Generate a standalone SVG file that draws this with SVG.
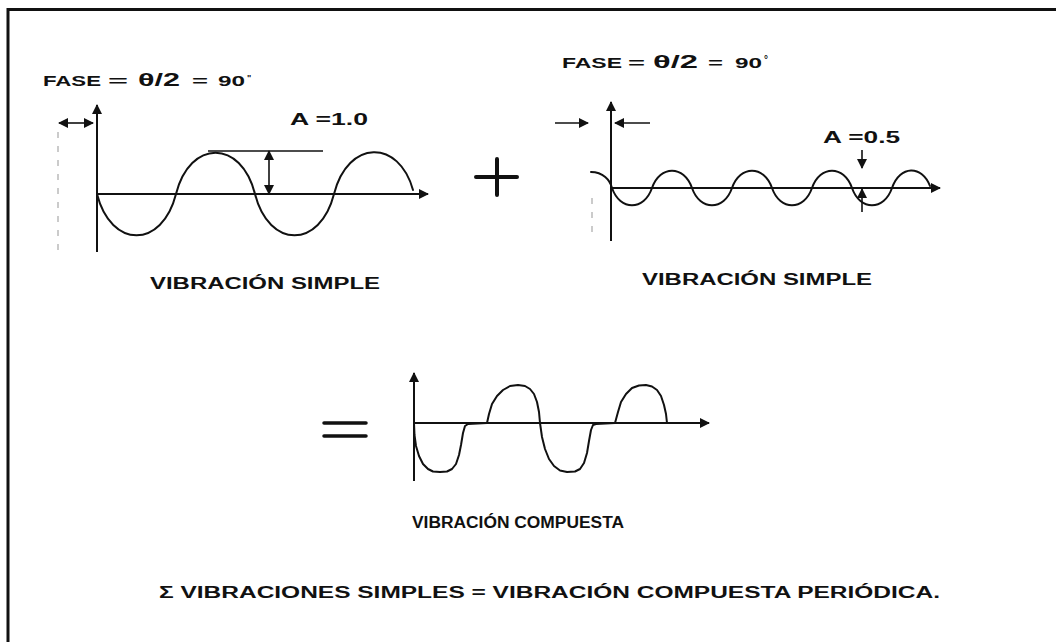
<svg xmlns="http://www.w3.org/2000/svg" width="1056" height="642" viewBox="0 0 1056 642">
<defs>
<marker id="ah" viewBox="0 0 10 10" refX="9" refY="5" markerWidth="10" markerHeight="10" markerUnits="userSpaceOnUse" orient="auto">
<path d="M0,0 L10,5 L0,10 Z" fill="#111"/>
</marker>
<style>
.ax{stroke:#111;stroke-width:2;fill:none}
.cv{stroke:#111;stroke-width:2;fill:none;stroke-linejoin:round;stroke-linecap:round}
.ln{stroke:#111;stroke-width:1.6;fill:none}
.t{font-family:"Liberation Sans",Arial,sans-serif;font-weight:bold;fill:#111}
.faint{stroke:#bbb;stroke-width:1.5;stroke-dasharray:6 8;fill:none}
</style>
</defs>
<rect width="1056" height="642" fill="#fff"/>
<g id="frame">
<path d="M8,642 L8,9.5 L1056,9.5" stroke="#111" stroke-width="3" fill="none"/>
</g>

<g id="graph-left">
<line class="faint" x1="58" y1="132" x2="58" y2="252"/>
<path class="cv" d="M97,194 C111,249 162,249 176,194 C190,139 241,139 255,194 C269,249 320,249 334,194 C348,139 399,139 413,190"/>
<text class="t" x="43" y="86" font-size="15" textLength="58" lengthAdjust="spacingAndGlyphs">FASE</text>
<text class="t" x="108" y="86" font-size="15" textLength="20" lengthAdjust="spacingAndGlyphs">=</text>
<text class="t" x="138" y="86" font-size="19" textLength="42" lengthAdjust="spacingAndGlyphs">θ/2</text>
<text class="t" x="192" y="86" font-size="15" textLength="16" lengthAdjust="spacingAndGlyphs">=</text>
<text class="t" x="218" y="86" font-size="15" textLength="27" lengthAdjust="spacingAndGlyphs">90</text>
<text class="t" x="247" y="81" font-size="9">"</text>
<text class="t" x="290" y="125" font-size="16" textLength="78" lengthAdjust="spacingAndGlyphs">A =1.0</text>
<line class="ln" x1="208" y1="151" x2="323" y2="151"/>
<text class="t" x="150" y="289" font-size="16" textLength="230" lengthAdjust="spacingAndGlyphs">VIBRACIÓN SIMPLE</text>
</g>

<g id="plus">
<path d="M476,177 L517,177 M497,159 L497,195" stroke="#111" stroke-width="4" fill="none" stroke-linecap="round"/>
</g>

<g id="graph-right">
<line class="faint" x1="592" y1="198" x2="592" y2="232"/>
<path class="cv" d="M591,172 C603,172 610,180 612,188 C620,211 644,211 652,188 C660,165 684,165 692,188 C700,211 724,211 732,188 C740,165 764,165 772,188 C780,211 804,211 812,188 C820,165 844,165 852,188 C860,211 884,211 892,188 C900,165 922,165 930,186"/>
<text class="t" x="562" y="68" font-size="15" textLength="60" lengthAdjust="spacingAndGlyphs">FASE</text>
<text class="t" x="628" y="68" font-size="15" textLength="17" lengthAdjust="spacingAndGlyphs">=</text>
<text class="t" x="653" y="68" font-size="19" textLength="45" lengthAdjust="spacingAndGlyphs">θ/2</text>
<text class="t" x="708" y="68" font-size="15" textLength="15" lengthAdjust="spacingAndGlyphs">=</text>
<text class="t" x="735" y="68" font-size="15" textLength="27" lengthAdjust="spacingAndGlyphs">90</text>
<text class="t" x="764" y="63" font-size="10">°</text>
<text class="t" x="823" y="143" font-size="16" textLength="77" lengthAdjust="spacingAndGlyphs">A =0.5</text>
<text class="t" x="642" y="285" font-size="16" textLength="230" lengthAdjust="spacingAndGlyphs">VIBRACIÓN SIMPLE</text>
</g>

<g id="equals">
<path d="M324,423 L366,423 M324,436 L366,436" stroke="#111" stroke-width="3.5" fill="none" stroke-linecap="round"/>
</g>

<g id="graph-composite">
<polyline class="cv" points="414,423 414.5,435 416,446 419,456 423,464 428,469 433,471.5 440,472 447,471.5 452,469 456,464 459,455 461,445 463,433 465,426 468,424 487,423 489,414 492,404 497,396 503,390 510,386 518,385 525,386 530,389 534,394 537,402 539,412 540,423 542,437 545,449 549,459 554,466 560,470.5 567,472 575,471.5 580,469 584,463 587,453 589,441 591,430 593,425 596,424 615,423 618,412 621,402 626,394 632,388 639,385.5 646,385 652,386.5 657,390 661,396 664,405 666,414 667,423"/>
<text class="t" x="412" y="528" font-size="16" textLength="212" lengthAdjust="spacingAndGlyphs">VIBRACIÓN COMPUESTA</text>
</g>

<g id="summary">
<text class="t" x="159" y="598" font-size="16" textLength="781" lengthAdjust="spacingAndGlyphs">Σ VIBRACIONES SIMPLES = VIBRACIÓN COMPUESTA PERIÓDICA.</text>
</g>

<g id="connectors">
<line class="ax" x1="97" y1="252" x2="97" y2="105" marker-end="url(#ah)"/>
<line class="ax" x1="97" y1="194" x2="428" y2="194" marker-end="url(#ah)"/>
<line class="ln" x1="76" y1="123" x2="59" y2="123" marker-end="url(#ah)"/>
<line class="ln" x1="76" y1="123" x2="93" y2="123" marker-end="url(#ah)"/>
<line class="ln" x1="269" y1="172" x2="269" y2="151" marker-end="url(#ah)"/>
<line class="ln" x1="269" y1="172" x2="269" y2="194" marker-end="url(#ah)"/>

<line class="ax" x1="611" y1="241" x2="611" y2="102" marker-end="url(#ah)"/>
<line class="ax" x1="611" y1="188" x2="940" y2="188" marker-end="url(#ah)"/>
<line class="ln" x1="555" y1="123" x2="588" y2="123" marker-end="url(#ah)"/>
<line class="ln" x1="650" y1="123" x2="615" y2="123" marker-end="url(#ah)"/>
<line class="ln" x1="862" y1="150" x2="862" y2="168" marker-end="url(#ah)"/>
<line class="ln" x1="862" y1="212" x2="862" y2="189" marker-end="url(#ah)"/>

<line class="ax" x1="414" y1="481" x2="414" y2="373" marker-end="url(#ah)"/>
<line class="ax" x1="414" y1="423" x2="709" y2="423" marker-end="url(#ah)"/>
</g>
</svg>
